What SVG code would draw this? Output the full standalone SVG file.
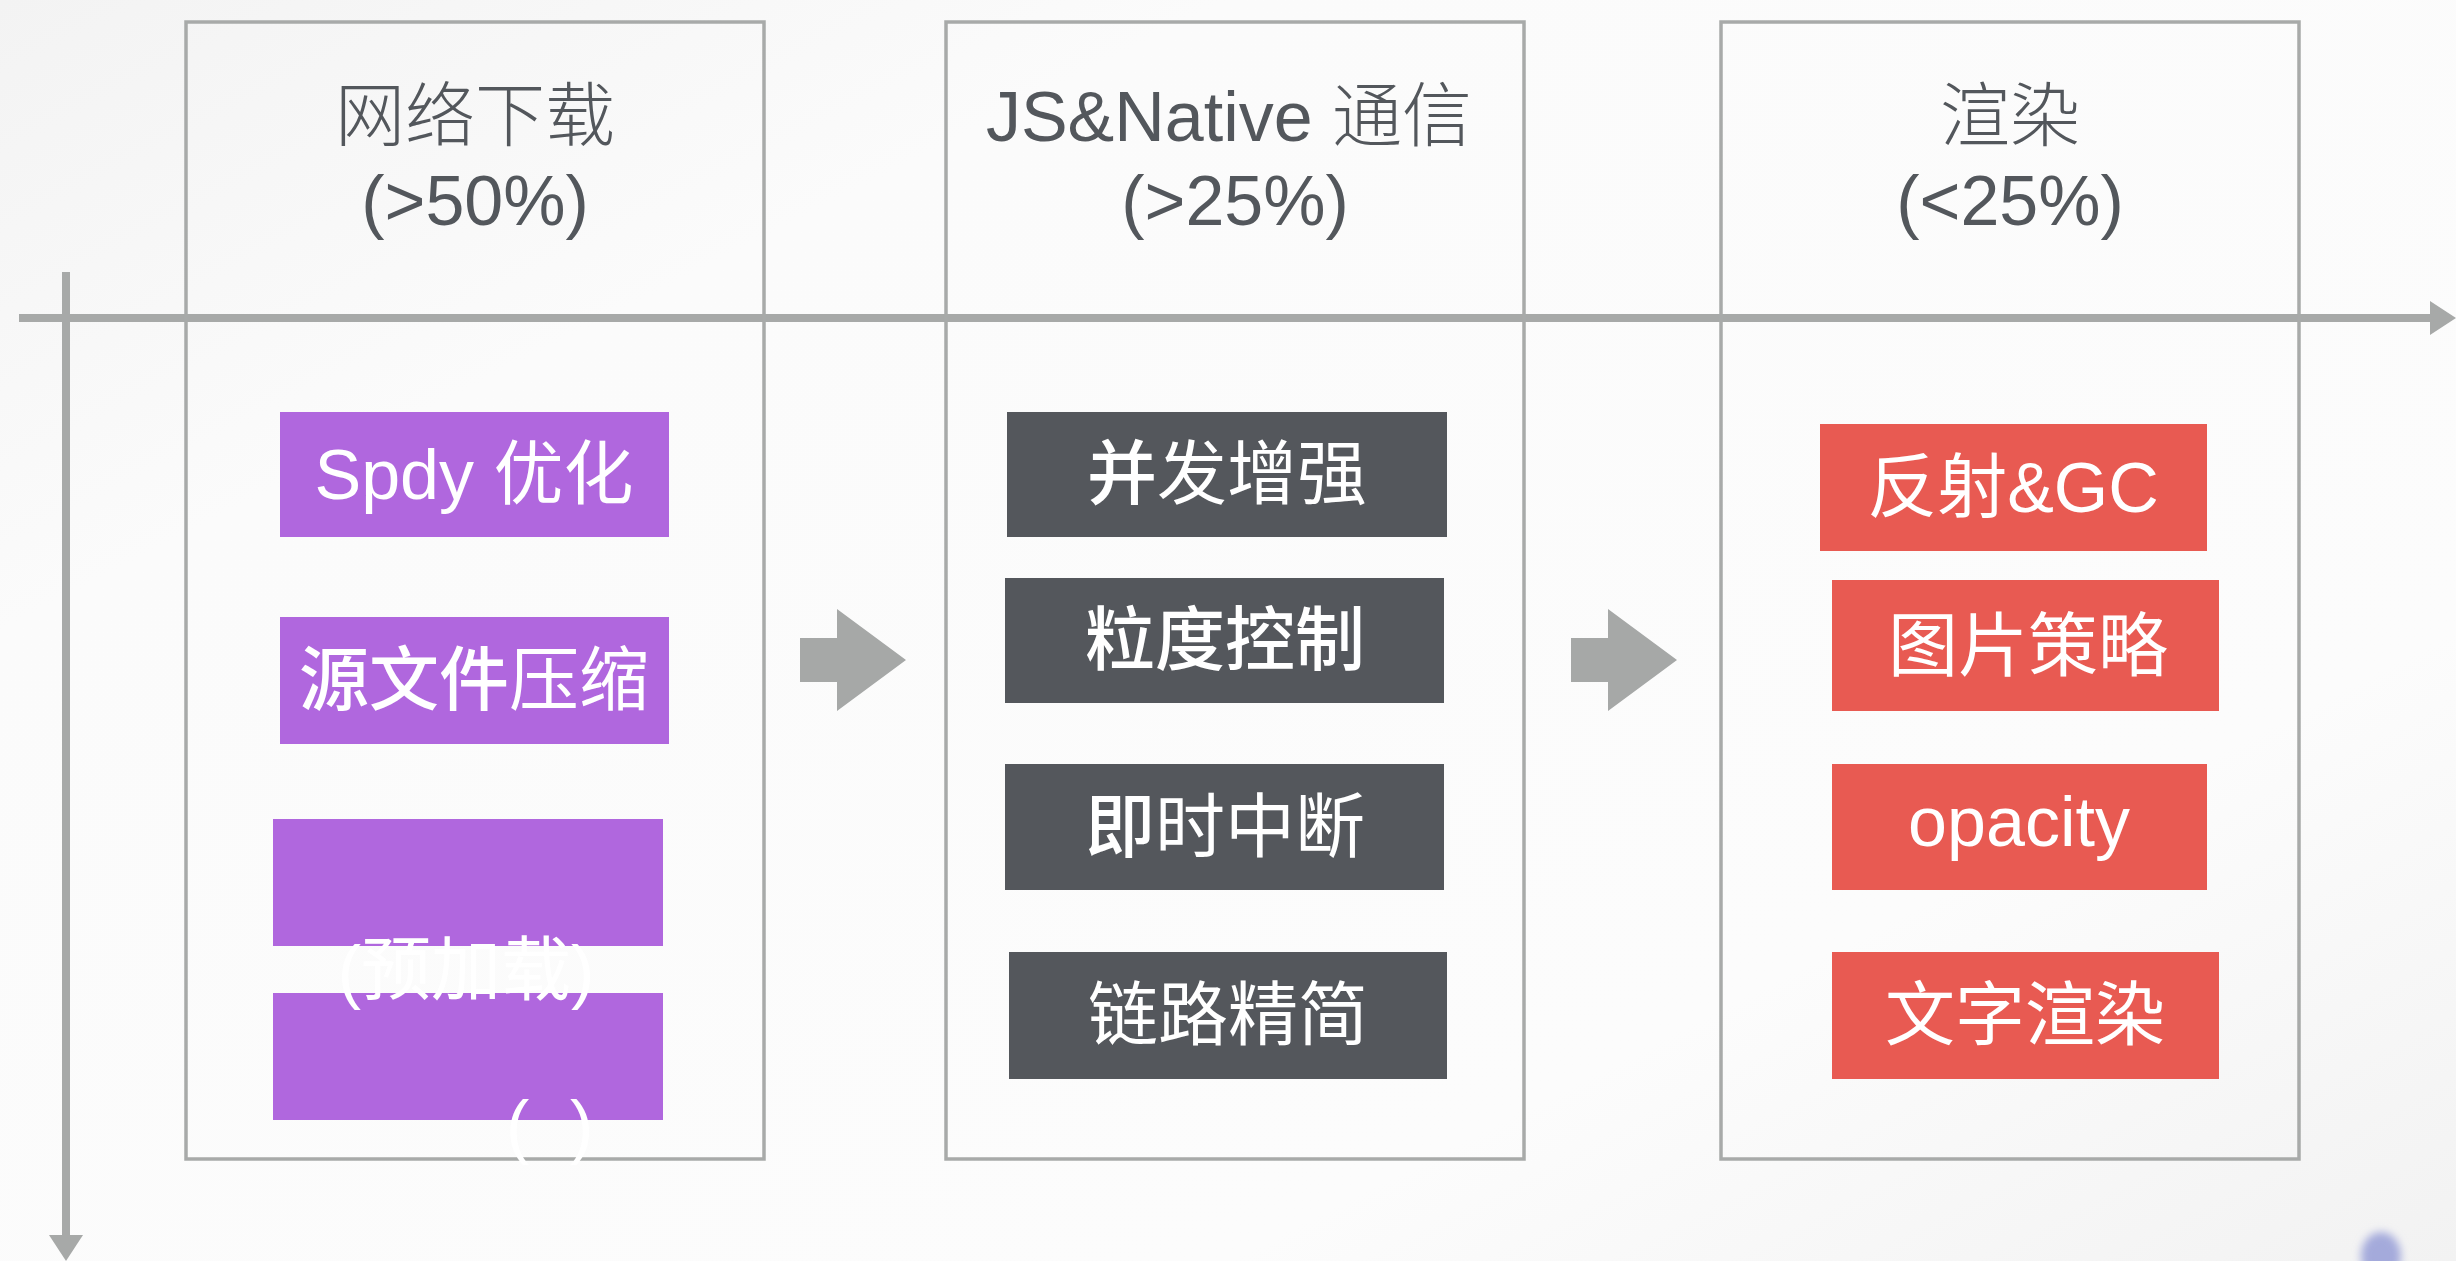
<svg xmlns="http://www.w3.org/2000/svg" xmlns:xlink="http://www.w3.org/1999/xlink" width="2456" height="1261" viewBox="0 0 2456 1261">
  <style>
    text { font-family: "Liberation Sans", "Noto Sans CJK SC", sans-serif; }
    .panel { fill: none; stroke: #a8aaa9; stroke-width: 3.5; }
    .title { fill: #53575c; font-size: 70px; text-anchor: middle; font-weight: 300; }
    .label { fill: #ffffff; font-size: 70px; text-anchor: middle; }
    .purple { fill: #b067de; }
    .slate { fill: #54575c; }
    .red { fill: #e85a52; }
    .axis { stroke: #a7a9a8; stroke-width: 8; fill: none; }
    .bold { font-weight: 500; }
    .stray { fill: #ffffff; font-size: 70px; }
  </style>
  <defs>
    <linearGradient id="bg" x1="0" y1="0" x2="1" y2="1">
      <stop offset="0" stop-color="#f3f3f3"/>
      <stop offset="0.25" stop-color="#fbfbfb"/>
      <stop offset="0.75" stop-color="#fcfcfc"/>
      <stop offset="1" stop-color="#f2f2f2"/>
    </linearGradient>
    <marker id="axisHead" markerUnits="userSpaceOnUse" markerWidth="28" markerHeight="36" refX="2" refY="17" orient="auto">
      <path d="M0,0 L26,17 L0,34 Z" fill="#a7a9a8"/>
    </marker>
    <path id="blockArrow" d="M0,-22 H37 V-51 L106,0 L37,51 V22 H0 Z" fill="#a6a8a7"/>
    <filter id="soft" x="-50%" y="-50%" width="200%" height="200%">
      <feGaussianBlur stdDeviation="4"/>
    </filter>
  </defs>

  <!-- page -->
  <rect width="2456" height="1261" fill="url(#bg)"/>
  <ellipse cx="2381" cy="1256" rx="20" ry="24" fill="#a4aadb" filter="url(#soft)"/>

  <!-- axes and flow arrows -->
  <g id="connectors">
    <line class="axis" x1="19" y1="318" x2="2432" y2="318" marker-end="url(#axisHead)"/>
    <line class="axis" x1="66" y1="272" x2="66" y2="1237" marker-end="url(#axisHead)"/>
    <use xlink:href="#blockArrow" x="800" y="660"/>
    <use xlink:href="#blockArrow" x="1571" y="660"/>
  </g>

  <!-- column 1: network download -->
  <g id="download">
    <rect class="panel" x="186" y="22" width="578" height="1137"/>
    <text class="title" x="475" y="141">网络下载</text>
    <text class="title" x="475" y="225">(&gt;50%)</text>
    <rect class="purple" x="280" y="412" width="389" height="125"/>
    <text class="label" x="474" y="499">Spdy 优化</text>
    <rect class="purple" x="280" y="617" width="389" height="127"/>
    <text class="label" x="474" y="705"><tspan class="bold">源文件</tspan>压缩</text>
    <rect class="purple" x="273" y="819" width="390" height="127"/>
    <rect class="purple" x="273" y="993" width="390" height="127"/>
    <text class="stray" x="466" y="995" text-anchor="middle">(预加载)</text>
    <text class="stray" y="1150"><tspan x="506">(</tspan><tspan x="570">)</tspan></text>
  </g>

  <!-- column 2: JS & Native bridge -->
  <g id="bridge">
    <rect class="panel" x="946" y="22" width="578" height="1137"/>
    <text class="title" x="1229" y="141">JS&amp;Native 通信</text>
    <text class="title" x="1235" y="225">(&gt;25%)</text>
    <rect class="slate" x="1007" y="412" width="440" height="125"/>
    <text class="label" x="1227" y="499"><tspan class="bold">并</tspan>发增强</text>
    <rect class="slate" x="1005" y="578" width="439" height="125"/>
    <text class="label bold" x="1225" y="665">粒度控制</text>
    <rect class="slate" x="1005" y="764" width="439" height="126"/>
    <text class="label" x="1225" y="852"><tspan class="bold">即</tspan>时中断</text>
    <rect class="slate" x="1009" y="952" width="438" height="127"/>
    <text class="label" x="1228" y="1040">链路精简</text>
  </g>

  <!-- column 3: rendering -->
  <g id="render">
    <rect class="panel" x="1721" y="22" width="578" height="1137"/>
    <text class="title" x="2010" y="141">渲染</text>
    <text class="title" x="2010" y="225">(&lt;25%)</text>
    <rect class="red" x="1820" y="424" width="387" height="127"/>
    <text class="label" x="2013" y="512">反射&amp;GC</text>
    <rect class="red" x="1832" y="580" width="387" height="131"/>
    <text class="label" x="2028" y="671">图片策略</text>
    <rect class="red" x="1832" y="764" width="375" height="126"/>
    <text class="label" x="2019" y="846">opacity</text>
    <rect class="red" x="1832" y="952" width="387" height="127"/>
    <text class="label" x="2025" y="1040">文字渲染</text>
  </g>
</svg>
